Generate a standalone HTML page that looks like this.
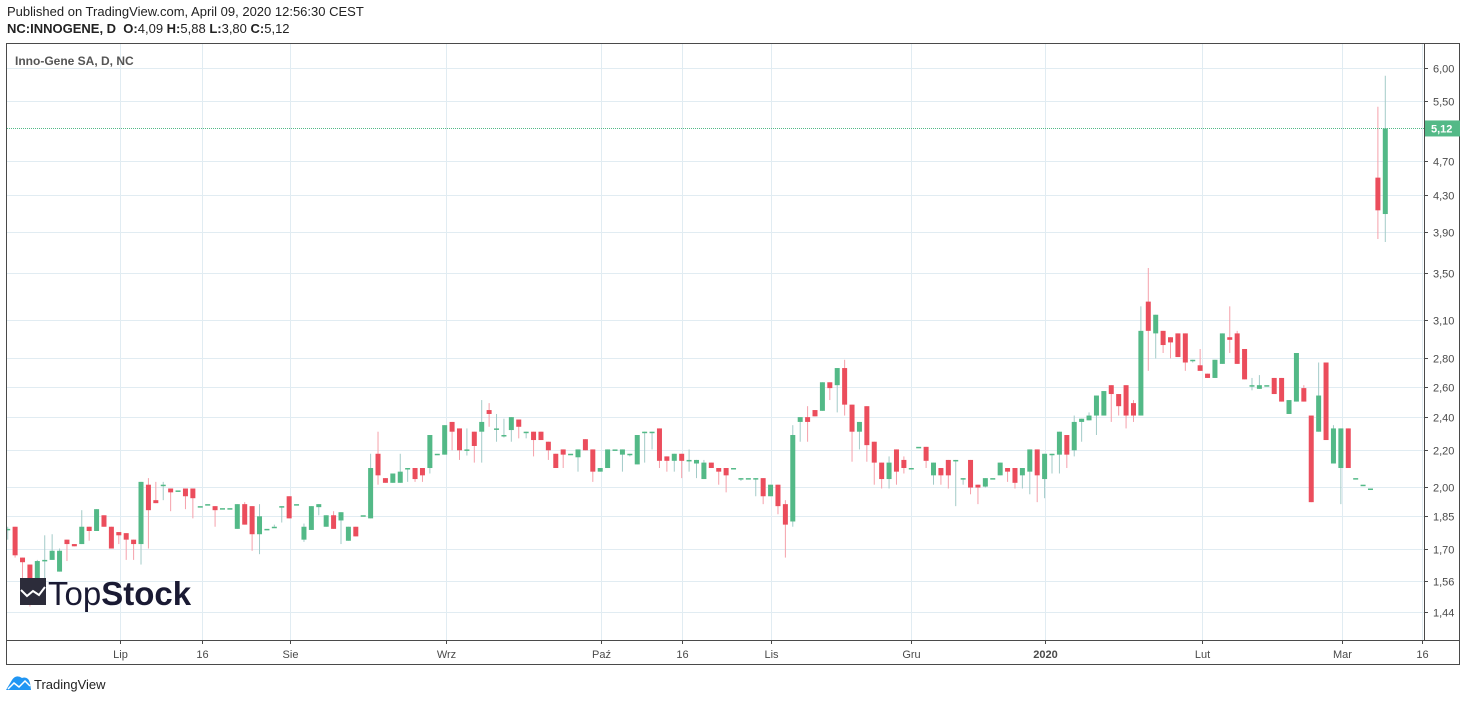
<!DOCTYPE html>
<html><head><meta charset="utf-8"><style>
body{margin:0;background:#fff;width:1467px;height:702px;overflow:hidden;font-family:"Liberation Sans",sans-serif}
#hdr1{position:absolute;left:7px;top:4px;font-size:13px;color:#222}
#hdr2{position:absolute;left:7px;top:21px;font-size:13px;color:#222}
svg{position:absolute;left:0;top:0}
</style></head><body>
<div id="hdr1">Published on TradingView.com, April 09, 2020 12:56:30 CEST</div>
<div id="hdr2"><b>NC:INNOGENE, D</b>&nbsp; <b>O:</b>4,09 <b>H:</b>5,88 <b>L:</b>3,80 <b>C:</b>5,12</div>
<svg id="chart" width="1467" height="702"></svg>
<script>
const priceTicks=[6.00,5.50,4.70,4.30,3.90,3.50,3.10,2.80,2.60,2.40,2.20,2.00,1.85,1.70,1.56,1.44];
const xLabels=["Lip","16","Sie","Wrz","Paź","16","Lis","Gru","2020","Lut","Mar","16"];
const xLabelIdx=[15.2,26.2,38.1,59.2,80.1,91.1,103.1,122,140.1,161.2,180.2,191];
const opens=[1.79,1.80,1.66,1.63,1.56,1.65,1.65,1.60,1.74,1.72,1.72,1.80,1.78,1.855,1.80,1.775,1.77,1.74,1.72,2.01,1.93,2.01,1.99,1.98,1.99,1.99,1.90,1.91,1.90,1.89,1.89,1.79,1.91,1.90,
1.765,1.79,1.80,1.90,1.95,1.91,1.74,1.785,1.895,1.80,1.855,1.83,1.735,1.80,1.855,1.84,2.18,2.045,2.02,2.02,2.10,2.10,2.10,2.10,2.18,2.175,2.37,2.33,2.205,2.31,2.31,2.445,2.33,
2.29,2.32,2.385,2.31,2.31,2.31,2.25,2.18,2.205,2.18,2.16,2.265,2.205,2.08,2.10,2.205,2.175,2.18,2.12,2.31,2.31,2.33,2.165,2.14,2.18,2.145,2.125,2.04,2.13,2.10,2.10,2.10,2.045,2.045,2.045,2.045,1.95,2.01,1.91,1.825,2.37,
2.40,2.445,2.44,2.63,2.61,2.73,2.48,2.31,2.47,2.25,2.13,2.04,2.205,2.145,2.10,2.22,2.22,2.06,2.10,2.145,2.145,2.045,2.145,2.01,2.00,2.045,2.06,2.10,2.10,2.06,2.08,2.205,2.04,2.18,2.175,2.29,2.20,2.37,2.38,
2.41,2.41,2.61,2.55,2.61,2.49,2.41,3.25,2.99,3.01,2.96,2.99,2.99,2.79,2.75,2.69,2.66,2.76,2.96,2.99,2.87,2.61,2.585,2.61,2.66,2.66,2.42,2.50,2.59,2.41,2.31,2.77,2.125,2.10,2.33,2.045,2.01,1.99,4.50,4.09];
const highs=[1.80,1.80,1.66,1.63,1.65,1.76,1.765,1.70,1.74,1.72,1.88,1.80,1.885,1.855,1.80,1.775,1.77,1.74,2.025,2.045,2.025,2.025,1.99,1.98,1.99,1.99,1.90,1.91,1.90,1.89,1.89,1.91,1.92,1.90,
1.91,1.79,1.81,1.90,1.95,1.91,1.815,1.90,1.91,1.855,1.875,1.87,1.80,1.80,1.855,2.18,2.31,2.045,2.07,2.18,2.10,2.10,2.10,2.29,2.18,2.35,2.37,2.33,2.33,2.31,2.51,2.49,2.42,
2.39,2.40,2.385,2.31,2.31,2.31,2.25,2.18,2.205,2.18,2.205,2.265,2.205,2.10,2.205,2.205,2.205,2.18,2.29,2.31,2.31,2.33,2.165,2.18,2.18,2.205,2.145,2.145,2.13,2.10,2.10,2.10,2.045,2.045,2.045,2.045,2.01,2.01,1.93,2.35,2.40,
2.47,2.445,2.63,2.63,2.73,2.79,2.48,2.37,2.47,2.25,2.13,2.165,2.205,2.165,2.10,2.22,2.22,2.13,2.10,2.145,2.145,2.045,2.145,2.01,2.045,2.045,2.13,2.10,2.10,2.10,2.205,2.205,2.18,2.18,2.31,2.29,2.41,2.39,2.43,
2.54,2.57,2.61,2.55,2.61,2.51,3.21,3.55,3.14,3.01,2.96,2.99,2.99,2.79,2.87,2.69,2.79,2.99,3.21,3.01,2.87,2.66,2.68,2.61,2.66,2.66,2.51,2.84,2.61,2.41,2.77,2.77,2.35,2.33,2.33,2.045,2.01,1.99,5.42,5.88];
const lows=[1.74,1.66,1.565,1.46,1.53,1.565,1.65,1.60,1.645,1.71,1.72,1.735,1.78,1.80,1.70,1.72,1.65,1.65,1.63,1.70,1.915,1.93,1.875,1.98,1.885,1.84,1.90,1.91,1.80,1.89,1.89,1.79,1.81,1.69,
1.675,1.79,1.80,1.82,1.84,1.91,1.73,1.785,1.855,1.80,1.79,1.72,1.735,1.755,1.855,1.84,2.01,2.02,2.02,2.02,2.025,2.025,2.025,2.07,2.18,2.175,2.20,2.145,2.17,2.13,2.13,2.34,2.25,
2.275,2.25,2.27,2.27,2.165,2.26,2.145,2.10,2.10,2.18,2.08,2.20,2.025,2.08,2.10,2.205,2.08,2.165,2.12,2.13,2.205,2.10,2.08,2.08,2.045,2.08,2.045,2.04,2.10,2.01,1.97,2.10,2.03,2.045,1.95,1.91,1.95,1.86,1.66,1.80,2.25,
2.25,2.405,2.44,2.51,2.43,2.41,2.135,2.205,2.135,2.01,1.99,1.99,2.01,2.07,2.10,2.22,2.10,2.01,2.01,1.99,1.90,2.01,1.96,1.91,1.995,2.045,2.06,2.025,1.99,1.99,1.96,1.92,1.94,2.07,2.07,2.10,2.165,2.25,2.38,
2.29,2.41,2.37,2.41,2.33,2.37,2.41,2.71,2.80,2.84,2.80,2.81,2.71,2.77,2.71,2.66,2.66,2.76,2.84,2.76,2.65,2.575,2.585,2.61,2.55,2.50,2.42,2.50,2.50,1.92,2.31,2.26,2.125,1.91,2.10,2.045,2.01,1.99,3.83,3.80];
const closes=[1.79,1.67,1.64,1.55,1.645,1.65,1.69,1.69,1.72,1.71,1.80,1.78,1.885,1.80,1.70,1.76,1.74,1.72,2.025,1.88,1.915,2.01,1.97,1.98,1.95,1.94,1.90,1.91,1.88,1.89,1.89,1.91,1.81,1.765,
1.85,1.79,1.80,1.90,1.84,1.91,1.80,1.90,1.91,1.855,1.79,1.87,1.80,1.755,1.855,2.10,2.06,2.02,2.07,2.08,2.10,2.04,2.06,2.29,2.18,2.35,2.31,2.20,2.205,2.225,2.37,2.42,2.33,
2.29,2.40,2.34,2.31,2.26,2.26,2.20,2.10,2.175,2.18,2.205,2.20,2.08,2.10,2.205,2.205,2.205,2.18,2.29,2.31,2.31,2.14,2.14,2.18,2.14,2.145,2.145,2.13,2.10,2.08,2.06,2.10,2.045,2.045,2.045,1.95,2.01,1.90,1.81,2.29,2.40,
2.37,2.405,2.63,2.59,2.73,2.48,2.31,2.37,2.23,2.13,2.04,2.13,2.08,2.10,2.10,2.22,2.14,2.13,2.06,2.06,2.145,2.045,1.995,1.995,2.045,2.045,2.13,2.08,2.02,2.10,2.205,2.06,2.18,2.18,2.31,2.175,2.37,2.39,2.41,
2.54,2.57,2.55,2.47,2.41,2.41,3.01,3.01,3.14,2.90,2.92,2.81,2.77,2.79,2.71,2.66,2.79,2.99,2.94,2.76,2.65,2.61,2.61,2.61,2.55,2.50,2.51,2.84,2.50,1.92,2.54,2.26,2.33,2.33,2.10,2.045,2.01,1.99,4.13,5.12];
const lastPrice=5.12;

const NS="http://www.w3.org/2000/svg";
const svg=document.getElementById('chart');
const L=7,R=1424,T=44,B=640;
const n=opens.length;
const x0=7.7, dx=(1385.3-7.7)/(n-1);
function xs(i){return x0+i*dx;}
function ys(v){return 486.6+381*Math.log(2/v);}
function mk(tag,attrs,parent){const e=document.createElementNS(NS,tag);for(const k in attrs)e.setAttribute(k,attrs[k]);(parent||svg).appendChild(e);return e;}
function fmt(v){return v.toFixed(2).replace('.',',');}

// frame
const frame=mk('rect',{x:6.5,y:43.5,width:1453,height:621,fill:'#fff',stroke:'#4a4a4a','stroke-width':1});



const clip=mk('clipPath',{id:'pc'});mk('rect',{x:L,y:T,width:R-L,height:B-T},clip);
const grid=mk('g',{});


priceTicks.forEach(v=>{const y=Math.round(ys(v))+0.5;
 mk('line',{x1:L,x2:R,y1:y,y2:y,stroke:'#e1ecf2'},grid);
 mk('line',{x1:R,x2:R+4,y1:y,y2:y,stroke:'#4a4a4a'},grid);
 const t=mk('text',{x:R+9,y:y+4,'font-size':11,fill:'#4a4a4a','font-family':'Liberation Sans, sans-serif'});t.textContent=fmt(v);
 
 
});
xLabels.forEach((lab,k)=>{const x=Math.round(xs(xLabelIdx[k]))+0.5;
 mk('line',{x1:x,x2:x,y1:T,y2:B,stroke:'#e1ecf2'},grid);
 mk('line',{x1:x,x2:x,y1:B,y2:B+4,stroke:'#4a4a4a'},grid);
 const t=mk('text',{x:x,y:B+18,'font-size':11,fill:'#4a4a4a','text-anchor':'middle','font-weight':lab==='2020'?'bold':'normal','font-family':'Liberation Sans, sans-serif'});t.textContent=lab;
 
 
});
mk('line',{x1:R+0.5,x2:R+0.5,y1:T,y2:B,stroke:'#4a4a4a'});
mk('line',{x1:L,x2:1460,y1:B+0.5,y2:B+0.5,stroke:'#4a4a4a'});

const title=mk('text',{x:15,y:65,'font-size':12,fill:'#555','font-weight':'bold','font-family':'Liberation Sans, sans-serif'});
title.textContent='Inno-Gene SA, D, NC';



const cg=mk('g',{'clip-path':'url(#pc)'});


for(let i=0;i<n;i++){
 const up=closes[i]>=opens[i];
 const x=xs(i);
 const wick=mk('line',{x1:x,x2:x,y1:ys(highs[i]),y2:ys(lows[i]),stroke:up?'#a3cbc8':'#f5a0aa','stroke-width':1},cg);
 
 
 const top=ys(Math.max(opens[i],closes[i])),bot=ys(Math.min(opens[i],closes[i]));
 const body=mk('rect',{x:x-2.5,y:top,width:5,height:Math.max(1.5,bot-top),fill:up?'#53b987':'#eb4d5c'},cg);
 
 
}
// last price line
const ly=ys(lastPrice);
const pl=mk('line',{x1:L,x2:R,y1:ly,y2:ly,stroke:'#53b987','stroke-dasharray':'1,1'});


const tag=mk('rect',{x:R+1,y:ly-8,width:35,height:16,fill:'#53b987'});


const tt=mk('text',{x:R+7,y:ly+4,'font-size':11,'font-weight':'bold',fill:'#fff','font-family':'Liberation Sans, sans-serif'});
tt.textContent=fmt(lastPrice);



// watermark logo
const lg=mk('g',{});


mk('rect',{x:20,y:578,width:26,height:27,fill:'#2c2c3a'},lg);
mk('polyline',{points:'21,590 27,596 33,591 39,595 45,587',fill:'none',stroke:'#fff','stroke-width':2},lg);
const lt=mk('text',{x:48,y:605,'font-size':33,fill:'#1a1a33','font-family':'Liberation Sans, sans-serif'},lg);
lt.innerHTML='Top<tspan font-weight="bold">Stock</tspan>';

// TradingView footer
const fg=mk('g',{});


mk('path',{d:'M6,690 L12,680 Q16,674 22,678 Q28,676 30,683 L31,690 Z',fill:'#2196f3'},fg);
mk('polyline',{points:'8,689 14,683 19,687 25,681 30,686',fill:'none',stroke:'#fff','stroke-width':1.5},fg);
const ft=mk('text',{x:34,y:689,'font-size':13,fill:'#222','font-family':'Liberation Sans, sans-serif'},fg);
ft.textContent='TradingView';
</script>
</body></html>
